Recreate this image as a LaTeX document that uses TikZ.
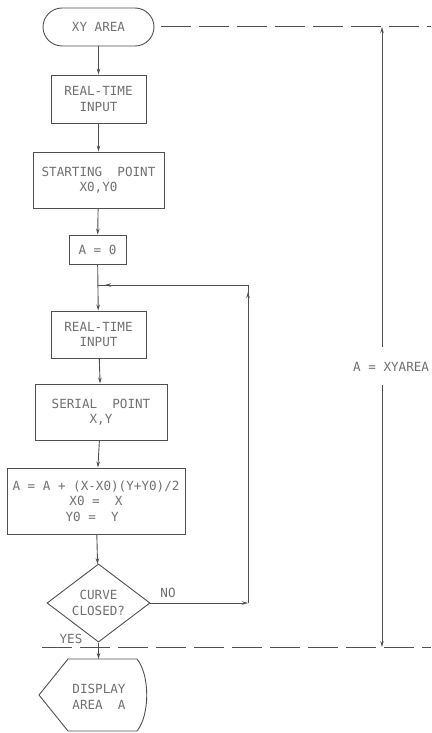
\documentclass[tikz,border=0pt]{standalone}
\usepackage{fontspec}
\setmainfont{DejaVu Sans Mono}
\usetikzlibrary{shapes.geometric,arrows.meta}
\definecolor{ink}{HTML}{505050}
\definecolor{txt}{HTML}{707070}
\begin{document}
\begin{tikzpicture}[x=1pt,y=-1pt,
  every node/.style={text=txt,font=\fontsize{12.6}{15.5}\selectfont,align=center,inner sep=0pt},
  proc/.style={draw=ink,line width=0.9pt,rectangle},
  term/.style={draw=ink,line width=0.9pt,rectangle,rounded corners=19pt,minimum width=111pt,minimum height=38pt},
  dec/.style={draw=ink,line width=0.9pt,diamond,minimum width=103pt,minimum height=68pt},
  flow/.style={draw=ink,line width=0.9pt,-{Stealth[length=6pt,width=3.5pt]}},
  plain/.style={draw=ink,line width=0.9pt},
  dashline/.style={draw=ink,line width=1pt,dash pattern=on 30pt off 8pt}]
\useasboundingbox (0,0) rectangle (431,733);
% nodes
\node[term] (start) at (98.5,27) {XY AREA};
\node[proc,minimum width=95pt,minimum height=48pt] (in1) at (98.5,99) {REAL-TIME\\INPUT};
\node[proc,minimum width=131pt,minimum height=56pt] (sp) at (98.5,180) {STARTING\ \ POINT\\X0,Y0};
\node[proc,minimum width=57pt,minimum height=29pt] (az) at (97.5,249.5) {A = 0};
\coordinate (join) at (98,285);
\node[proc,minimum width=95pt,minimum height=47pt] (in2) at (98.5,334.5) {REAL-TIME\\INPUT};
\node[proc,minimum width=132pt,minimum height=56pt] (ser) at (101,412) {SERIAL\ \ POINT\\X,Y};
\node[proc,minimum width=178pt,minimum height=66pt] (calc) at (96,501) {A = A + (X-X0)(Y+Y0)/2\\X0 =\ \ X\ \ \\Y0 =\ \ Y\ \ };
\node[dec] (cc) at (98.5,603) {CURVE\\CLOSED?};
% display shape
\coordinate (dtl) at (68,659);
\coordinate (dtr) at (137,659);
\coordinate (dbr) at (137,731);
\coordinate (dbl) at (68,731);
\coordinate (dlp) at (39,695);
\coordinate (dtop) at (98.5,659);
\draw[plain] (dtl) -- (dtr) .. controls (150,675) and (150,715) .. (dbr) -- (dbl) -- (dlp) -- cycle;
\node (disp) at (99,697) {DISPLAY\\AREA\ \ A};
% flow
\draw[flow] (start) -- (in1);
\draw[flow] (in1) -- (sp);
\draw[flow] (sp) -- (az);
\draw[flow] (az) -- (in2);
\draw[flow] (in2) -- (ser);
\draw[flow] (ser) -- (calc);
\draw[flow] (calc) -- (cc);
\draw[flow] (cc.south) -- (dtop);
% loop
\coordinate (lc1) at (248,603);
\coordinate (lc2) at (248,285);
\coordinate (lc2b) at (248,292);
\coordinate (joinb) at (105,285);
\draw[flow] (cc.east) -- (lc1);
\draw[flow] (lc1) -- (lc2b);
\draw[plain] (lc1) -- (lc2) -- (join);
\draw[flow] (lc2) -- (joinb);
\node (no) at (168,593) {NO};
\node (yes) at (71,639) {YES};
% dashed lines
\coordinate (dt1) at (161,27);
\coordinate (dt2) at (431,27);
\coordinate (db1) at (42,647);
\coordinate (db2) at (431,647);
\draw[dashline] (dt1) -- (dt2);
\draw[dashline] (db1) -- (db2);
% vertical dimension
\coordinate (vt) at (382,27);
\coordinate (vb) at (382,647);
\node[anchor=west] (lab) at (353,367) {A = XYAREA};
\coordinate (vlt) at (382,347);
\coordinate (vlb) at (382,385);
\draw[flow] (vlt) -- (vt);
\draw[flow] (vlb) -- (vb);
\end{tikzpicture}
\end{document}
